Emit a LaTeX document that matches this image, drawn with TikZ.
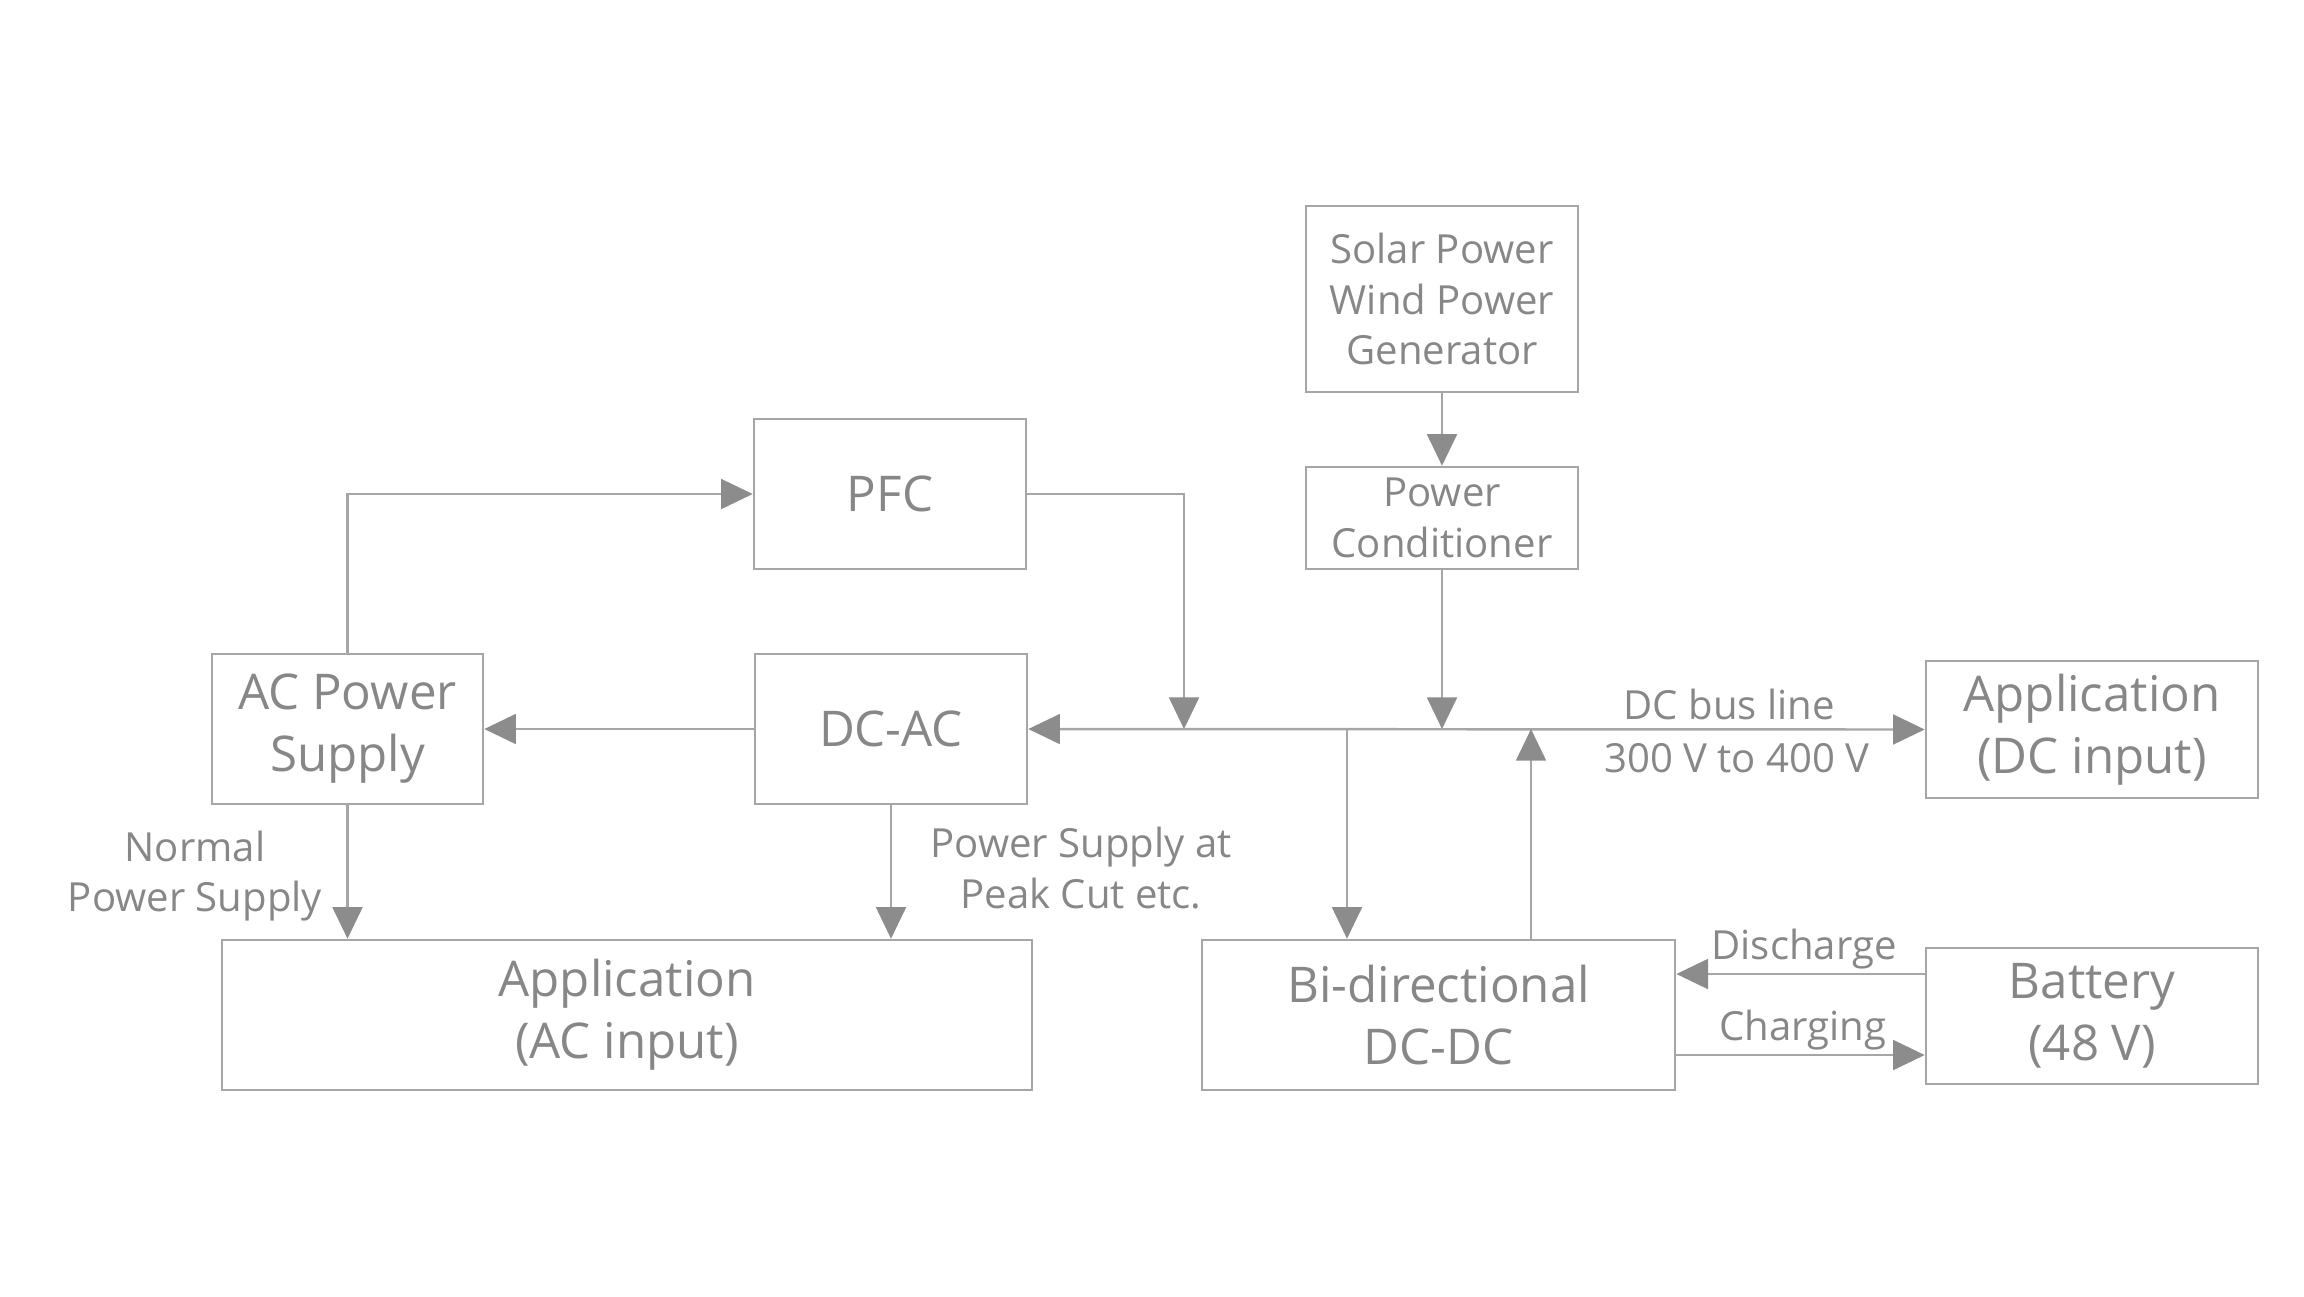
\documentclass[tikz,border=0pt]{standalone}
\usepackage{fontspec}
\setmainfont{Open Sans}
\usetikzlibrary{arrows.meta}
\definecolor{boxgray}{RGB}{166,166,166}
\definecolor{txtgray}{RGB}{135,135,135}
\definecolor{tipgray}{RGB}{140,140,140}
\tikzset{
  blk/.style={draw=boxgray, line width=0.7pt, text=txtgray, inner sep=0pt, align=center,
    font=\fontsize{14}{17.6}\selectfont},
  small/.style={text=txtgray, align=center, inner sep=0pt, font=\fontsize{11.4}{14.3}\selectfont},
  arr/.style={draw=boxgray, line width=0.7pt, -{Triangle[length=9pt,width=8.5pt,fill=tipgray,color=tipgray]}},
  darr/.style={draw=boxgray, line width=0.7pt, {Triangle[length=9pt,width=8.5pt,fill=tipgray,color=tipgray]}-{Triangle[length=9pt,width=8.5pt,fill=tipgray,color=tipgray]}}
}
\begin{document}
\begin{tikzpicture}[x=0.01cm, y=-0.01cm]
    \useasboundingbox (0,0) rectangle (2304,1296);
    \node[blk, small, draw=boxgray, minimum width=2.72cm, minimum height=1.86cm] (solar) at (1442,299) {Solar Power\\Wind Power\\Generator};
    \node[blk, small, draw=boxgray, minimum width=2.72cm, minimum height=1.02cm] (cond) at (1442,518) {Power\\Conditioner};
    \node[blk, minimum width=2.72cm, minimum height=1.50cm] (pfc) at (890,494) {PFC};
    \node[blk, minimum width=2.71cm, minimum height=1.50cm] (acps) at (347.5,729) {AC Power\\Supply};
    \node[blk, minimum width=2.72cm, minimum height=1.50cm] (dcac) at (891,729) {DC-AC};
    \node[blk, minimum width=8.10cm, minimum height=1.50cm] (appac) at (627,1015) {Application\\(AC input)};
    \node[blk, minimum width=4.73cm, minimum height=1.50cm] (bidc) at (1438.5,1015) {Bi-directional\\DC-DC};
    \node[blk, minimum width=3.32cm, minimum height=1.37cm] (appdc) at (2092,729.5) {Application\\(DC input)};
    \node[blk, minimum width=3.32cm, minimum height=1.36cm] (batt) at (2092,1016) {Battery\\(48 V)};

    \coordinate (pfcbus) at (1184,729);
    \coordinate (condbus) at (cond.south |- dcac.east);
    \coordinate (downbus) at (1347,729);
    \coordinate (upbus) at (1531,729);

    \draw[arr] (solar) -- (cond);
    \draw[arr] (cond) -- (condbus);
    \draw[arr] (pfc.east) -| (pfcbus);
    \draw[darr] (dcac.east) -- (appdc.west);
    \draw[arr] (acps.north) |- (pfc.west);
    \draw[arr] (dcac.west) -- (acps.east);
    \draw[arr] (acps.south) -- (acps.south |- appac.north);
    \draw[arr] (dcac.south) -- (dcac.south |- appac.north);
    \draw[arr] (downbus) -- (downbus |- bidc.north);
    \draw[arr] (upbus |- bidc.north) -- (upbus);
    \draw[arr] (batt.west |- 0,974) -- (bidc.east |- 0,974);
    \draw[arr] (bidc.east |- 0,1055) -- (batt.west |- 0,1055);

    \node[small] (normal) at (195,876) {Normal\\Power Supply};
    \node[small] (peak) at (1081,868) {Power Supply at\\Peak Cut etc.};
    \node[small] (busline) at (1729,704) {DC bus line};
    \node[small] (busvolt) at (1737,758) {300 V to 400 V};
    \node[small] (dis) at (1804,949) {Discharge};
    \node[small] (chg) at (1803,1030) {Charging};
\end{tikzpicture}
\end{document}
